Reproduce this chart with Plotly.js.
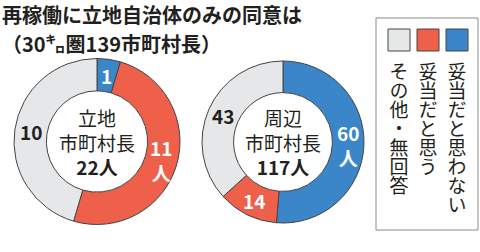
<!DOCTYPE html>
<html>
<head>
<meta charset="utf-8">
<script src="https://cdn.plot.ly/plotly-3.0.1.min.js"></script>
<style>html,body{margin:0;padding:0;background:#fff;}#chart{width:480px;height:252px;}</style>
</head>
<body>
<div id="chart"></div>
<script>
// ---- data ----
var categories = ['妥当だと思わない', '妥当だと思う', 'その他・無回答'];
var sliceColors = ['#3a86c8', '#ef604b', '#e6e7e8'];
var groupNames = ['立地<br>市町村長', '周辺<br>市町村長'];
var localValues = [1, 11, 10];
var surroundValues = [60, 14, 43];
var titleLines = ['再稼働に立地自治体のみの同意は', '（30㌔圏139市町村長）'];
var unit = '人';

// ---- layout helpers ----
var W = 480, H = 252;
function px(x) { return x / W; }
function py(y) { return 1 - y / H; }
var FONT = '"Noto Sans CJK JP", "Noto Sans", sans-serif';
var DARK = '#231f20';
var HOLE = 0.61;

function sum(a) { return a.reduce(function (s, v) { return s + v; }, 0); }

var shapes = [];
var annotations = [];
var traces = [];

// donuts: box = [left, right, top, bottom] in px; unitIndex = slice carrying the unit
var donuts = [
  {values: localValues, name: groupNames[0], box: [14, 180, 58.5, 224.5], unitIndex: 1},
  {values: surroundValues, name: groupNames[1], box: [202, 364, 60, 224], unitIndex: 0}
];

donuts.forEach(function (d) {
  var b = d.box;
  traces.push({
    type: 'pie',
    values: d.values,
    labels: categories,
    sort: false,
    direction: 'clockwise',
    rotation: 0,
    hole: HOLE,
    domain: {x: [px(b[0]), px(b[1])], y: [py(b[3]), py(b[2])]},
    marker: {colors: sliceColors, line: {color: '#444', width: 1}},
    textinfo: 'none',
    showlegend: false,
    hoverinfo: 'none'
  });
  var cx = (b[0] + b[1]) / 2, cy = (b[2] + b[3]) / 2;
  var R = Math.min(b[1] - b[0], b[3] - b[2]) / 2;
  var rMid = R * (1 + HOLE) / 2;
  // centre text
  annotations.push({
    xref: 'paper', yref: 'paper', x: px(cx), y: py(cy),
    xanchor: 'center', yanchor: 'middle', showarrow: false, align: 'center',
    text: d.name + '<br><b>' + sum(d.values) + unit + '</b>',
    font: {family: FONT, size: 19, color: DARK}
  });
  // slice value labels at the middle of each slice
  var total = sum(d.values), cum = 0;
  d.values.forEach(function (v, i) {
    var mid = (cum + v / 2) / total * 2 * Math.PI;
    cum += v;
    var lx = cx + rMid * Math.sin(mid);
    var ly = cy - rMid * Math.cos(mid);
    annotations.push({
      xref: 'paper', yref: 'paper', x: px(lx), y: py(ly),
      xanchor: 'center', yanchor: 'middle', showarrow: false, align: 'center',
      text: v + (i === d.unitIndex ? '<br>' + unit : ''),
      font: {family: FONT, size: 19, weight: 'bold', color: i === 2 ? DARK : '#ffffff'}
    });
  });
});

// title (two lines)
var titleY = [14.5, 43.5];
titleLines.forEach(function (line, k) {
  annotations.push({
    xref: 'paper', yref: 'paper', x: 0, y: py(titleY[k]), xanchor: 'left', yanchor: 'middle',
    align: 'left', showarrow: false,
    text: line,
    font: {family: FONT, size: 20, weight: 'bold', color: DARK}
  });
});

// legend box
shapes.push({type: 'rect', xref: 'paper', yref: 'paper',
  x0: px(376), x1: px(478), y0: py(230), y1: py(18),
  line: {color: '#8a8a8a', width: 1}, fillcolor: '#fff', layer: 'below'});

// legend entries (right to left), vertical text
var colX = [457, 428, 399];
var legendTextTop = 62;
var legendAnn = {};
for (var i = 0; i < categories.length; i++) {
  var lx = colX[i];
  shapes.push({type: 'rect', xref: 'paper', yref: 'paper',
    x0: px(lx - 11), x1: px(lx + 11), y0: py(51), y1: py(29),
    line: {color: '#444', width: 1}, fillcolor: sliceColors[i]});
  legendAnn[annotations.length] = lx;
  annotations.push({
    xref: 'paper', yref: 'paper', x: px(lx), y: py(140),
    xanchor: 'center', yanchor: 'middle', showarrow: false,
    text: categories[i],
    font: {family: FONT, size: 19, color: DARK}
  });
}

var layout = {
  width: W, height: H,
  margin: {l: 0, r: 0, t: 0, b: 0},
  paper_bgcolor: '#fff',
  showlegend: false,
  shapes: shapes,
  annotations: annotations
};

Plotly.newPlot('chart', traces, layout, {staticPlot: true, displayModeBar: false}).then(function (gd) {
  // set legend labels in vertical (tategaki) writing
  var svgRect = gd.querySelector('.main-svg').getBoundingClientRect();
  gd.querySelectorAll('.annotation').forEach(function (g) {
    var idx = g.getAttribute('data-index');
    if (!(idx in legendAnn)) return;
    var t = g.querySelector('text.annotation-text');
    if (!t) return;
    t.style.writingMode = 'vertical-rl';
    t.setAttribute('text-anchor', 'start');
    var r = t.getBoundingClientRect();
    var dx = (svgRect.left + legendAnn[idx]) - (r.left + r.width / 2);
    var dy = (svgRect.top + legendTextTop) - r.top;
    t.setAttribute('transform', 'translate(' + dx + ',' + dy + ')');
  });
});
</script>
</body>
</html>
